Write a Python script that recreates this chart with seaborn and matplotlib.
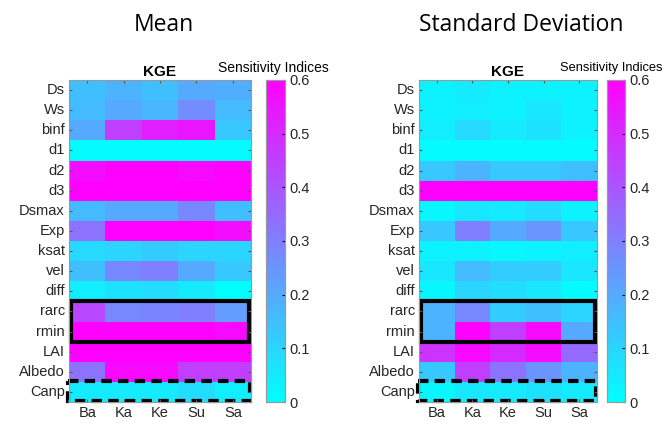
import numpy as np
import pandas as pd
import matplotlib
matplotlib.use("Agg")
import matplotlib.pyplot as plt
from matplotlib.patches import Rectangle
from matplotlib.transforms import Bbox, TransformedBbox
import seaborn as sns

params = ["Ds", "Ws", "binf", "d1", "d2", "d3", "Dsmax", "Exp", "ksat", "vel",
          "diff", "rarc", "rmin", "LAI", "Albedo", "Canp"]
sites = ["Ba", "Ka", "Ke", "Su", "Sa"]

# mean sensitivity indices (rows = params, cols = sites)
mean_ba = [0.15, 0.16, 0.20, 0.01, 0.57, 0.60, 0.16, 0.33, 0.09, 0.15, 0.04, 0.43, 0.60, 0.60, 0.33, 0.05]
mean_ka = [0.18, 0.20, 0.45, 0.01, 0.60, 0.60, 0.20, 0.60, 0.10, 0.28, 0.07, 0.28, 0.60, 0.60, 0.58, 0.05]
mean_ke = [0.15, 0.17, 0.53, 0.01, 0.60, 0.60, 0.20, 0.60, 0.12, 0.30, 0.08, 0.29, 0.60, 0.60, 0.58, 0.05]
mean_su = [0.20, 0.27, 0.55, 0.01, 0.58, 0.60, 0.28, 0.60, 0.10, 0.20, 0.05, 0.30, 0.60, 0.60, 0.45, 0.08]
mean_sa = [0.19, 0.16, 0.13, 0.01, 0.60, 0.60, 0.15, 0.57, 0.10, 0.13, 0.00, 0.23, 0.58, 0.60, 0.45, 0.04]

# standard deviation of sensitivity indices
std_ba = [0.03, 0.03, 0.04, 0.01, 0.13, 0.60, 0.02, 0.13, 0.03, 0.06, 0.02, 0.18, 0.18, 0.48, 0.13, 0.02]
std_ka = [0.05, 0.04, 0.09, 0.01, 0.18, 0.60, 0.06, 0.30, 0.03, 0.16, 0.10, 0.28, 0.60, 0.58, 0.45, 0.06]
std_ke = [0.03, 0.03, 0.05, 0.01, 0.13, 0.60, 0.05, 0.20, 0.02, 0.12, 0.08, 0.12, 0.45, 0.50, 0.33, 0.05]
std_su = [0.03, 0.06, 0.07, 0.01, 0.13, 0.60, 0.08, 0.25, 0.03, 0.12, 0.06, 0.15, 0.58, 0.57, 0.25, 0.07]
std_sa = [0.03, 0.03, 0.03, 0.01, 0.15, 0.60, 0.03, 0.13, 0.04, 0.06, 0.01, 0.10, 0.20, 0.35, 0.18, 0.05]

mean_df = pd.DataFrame(dict(zip(sites, [mean_ba, mean_ka, mean_ke, mean_su, mean_sa])), index=params)
std_df = pd.DataFrame(dict(zip(sites, [std_ba, std_ka, std_ke, std_su, std_sa])), index=params)

plt.rcParams["font.family"] = ["Liberation Sans", "DejaVu Sans"]
fig = plt.figure(figsize=(6.68, 4.28), dpi=100)
W, H = 668, 428


def px_axes(x0, y0, x1, y1):
    return fig.add_axes([x0 / W, 1 - y1 / H, (x1 - x0) / W, (y1 - y0) / H])


def panel(df, title, hx, cx, title_x):
    ax = px_axes(hx[0], 80, hx[1], 402)
    cax = px_axes(cx[0], 80, cx[1], 402)
    sns.heatmap(df, ax=ax, cbar_ax=cax, cmap="cool", vmin=0, vmax=0.6)
    for sp in ax.spines.values():
        sp.set_visible(True)
        sp.set_color("#999999")
        sp.set_linewidth(0.8)
    ax.tick_params(axis="both", direction="in", length=2.5, color="#555555",
                   labelsize=10.5, labelcolor="#262626", top=True, right=True, pad=3)
    ax.set_yticklabels(params, rotation=0)
    ax.set_xticklabels(sites, rotation=0)
    ax.set_xlabel("")
    ax.set_ylabel("")
    ax.set_title("KGE", fontsize=11, fontweight="bold", pad=3)
    # solid box around rarc / rmin, dashed box around Canp
    ax.add_patch(Rectangle((0.05, 11), 4.9, 2, fill=False, edgecolor="black",
                           linewidth=3, clip_on=False))
    ax.add_patch(Rectangle((-0.03, 14.95), 5.0, 1.0, fill=False, edgecolor="black",
                           linewidth=3, linestyle=(0, (2.5, 1.5)), clip_on=False))
    cax.tick_params(labelsize=10.5, labelcolor="#262626", direction="in", length=2.5, pad=3)
    cax.set_yticks([0, 0.1, 0.2, 0.3, 0.4, 0.5, 0.6])
    cax.set_yticklabels(["0", "0.1", "0.2", "0.3", "0.4", "0.5", "0.6"])
    for sp in cax.spines.values():
        sp.set_visible(True)
        sp.set_color("#999999")
        sp.set_linewidth(0.8)
    fig.text(title_x / W, 1 - 25 / H, title, fontsize=16.5,
             ha="center", va="center", family=["Open Sans", "DejaVu Sans"])


panel(mean_df, "Mean", (69, 251), (266, 285), 164)
panel(std_df, "Standard Deviation", (419, 597), (607, 625), 521)

for x0, fs in [(218, 10), (560, 9.3)]:
    fig.text(x0 / W, 1 - 68 / H, "Sensitivity Indices", fontsize=fs,
             ha="left", va="center")

fig.savefig("out.png", dpi=100, facecolor="white")
